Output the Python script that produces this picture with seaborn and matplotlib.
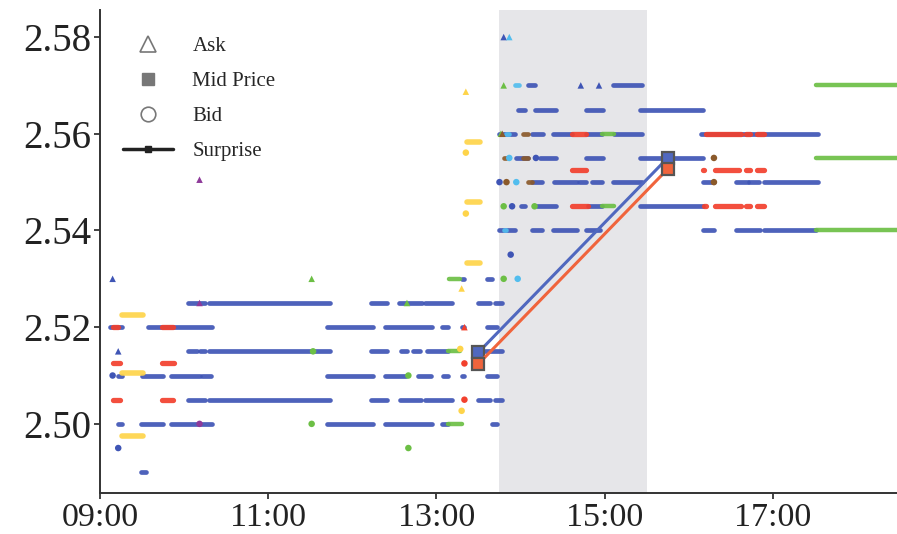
import matplotlib
matplotlib.use("Agg")
import matplotlib.pyplot as plt
from matplotlib.lines import Line2D
import seaborn as sns
import pandas as pd

# ---- quote data: (price, start "HH:MM", end "HH:MM") per venue colour ----
blue_spans = [
    (2.530, "13:18", "13:20"), (2.530, "13:36", "13:40"),
    (2.525, "10:03", "10:15"), (2.525, "10:18", "11:44"), (2.525, "12:13", "12:25"),
    (2.525, "12:33", "12:50"), (2.525, "12:52", "13:11"), (2.525, "13:30", "13:38"),
    (2.525, "13:42", "13:47"),
    (2.520, "09:07", "09:16"), (2.520, "09:34", "10:20"), (2.520, "11:42", "12:15"),
    (2.520, "12:23", "12:57"), (2.520, "13:04", "13:08"), (2.520, "13:18", "13:20"),
    (2.520, "13:36", "13:43"),
    (2.515, "10:03", "10:09"), (2.515, "10:11", "10:15"), (2.515, "10:18", "11:44"),
    (2.515, "12:13", "12:25"), (2.515, "12:35", "12:39"), (2.515, "12:43", "12:48"),
    (2.515, "12:53", "13:08"), (2.515, "13:35", "13:47"),
    (2.510, "09:13", "09:16"), (2.510, "09:30", "09:45"), (2.510, "09:51", "10:11"),
    (2.510, "10:13", "10:19"), (2.510, "11:42", "12:15"), (2.510, "12:23", "12:38"),
    (2.510, "12:47", "12:56"), (2.510, "13:05", "13:08"), (2.510, "13:18", "13:20"),
    (2.510, "13:36", "13:43"),
    (2.505, "10:03", "10:15"), (2.505, "10:18", "11:44"), (2.505, "12:13", "12:25"),
    (2.505, "12:34", "12:49"), (2.505, "12:52", "13:11"), (2.505, "13:30", "13:38"),
    (2.505, "13:42", "13:47"),
    (2.500, "09:13", "09:16"), (2.500, "09:29", "09:45"), (2.500, "09:51", "10:20"),
    (2.500, "11:42", "12:15"), (2.500, "12:23", "12:57"), (2.500, "13:04", "13:08"),
    (2.500, "13:40", "13:43"),
    (2.490, "09:29", "09:33"),
    (2.570, "14:05", "14:10"), (2.570, "15:06", "15:27"),
    (2.565, "13:58", "14:03"), (2.565, "14:10", "14:25"), (2.565, "14:47", "14:59"),
    (2.565, "15:25", "16:10"),
    (2.560, "13:45", "13:56"), (2.560, "14:08", "14:16"), (2.560, "14:23", "14:37"),
    (2.560, "14:47", "14:58"), (2.560, "15:07", "15:27"), (2.560, "16:09", "17:32"),
    (2.555, "13:57", "14:05"), (2.555, "14:14", "14:25"), (2.555, "14:47", "14:59"),
    (2.555, "15:25", "16:10"),
    (2.550, "14:08", "14:15"), (2.550, "14:24", "14:40"), (2.550, "14:42", "14:47"),
    (2.550, "14:51", "14:58"), (2.550, "15:06", "15:27"), (2.550, "16:10", "16:18"),
    (2.550, "16:34", "16:42"), (2.550, "16:43", "16:50"), (2.550, "16:54", "17:32"),
    (2.545, "14:00", "14:03"), (2.545, "14:12", "14:25"), (2.545, "14:48", "14:58"),
    (2.545, "15:25", "16:10"),
    (2.540, "13:45", "13:56"), (2.540, "14:08", "14:15"), (2.540, "14:23", "14:40"),
    (2.540, "14:47", "14:57"), (2.540, "16:10", "16:18"), (2.540, "16:34", "16:51"),
    (2.540, "16:54", "17:31"),
]
red_spans = [
    (2.520, "09:09", "09:13"), (2.520, "09:44", "09:52"),
    (2.5125, "09:09", "09:14"), (2.5125, "09:44", "09:53"),
    (2.505, "09:09", "09:14"), (2.505, "09:44", "09:52"),
    (2.560, "14:37", "14:47"), (2.560, "16:12", "16:37"), (2.560, "16:41", "16:44"),
    (2.560, "16:49", "16:54"),
    (2.5525, "14:37", "14:47"), (2.5525, "16:10", "16:11"), (2.5525, "16:19", "16:36"),
    (2.5525, "16:41", "16:44"), (2.5525, "16:49", "16:54"),
    (2.545, "14:37", "14:48"), (2.545, "16:11", "16:12"), (2.545, "16:19", "16:37"),
    (2.545, "16:41", "16:44"), (2.545, "16:49", "16:54"),
]
green_spans = [
    (2.530, "13:09", "13:17"), (2.515, "13:08", "13:17"), (2.500, "13:08", "13:18"),
    (2.560, "14:58", "15:07"), (2.545, "14:58", "15:07"),
    (2.570, "17:31", "18:40"), (2.555, "17:31", "18:40"), (2.540, "17:31", "18:40"),
]
yellow_spans = [
    (2.5225, "09:16", "09:31"), (2.5105, "09:16", "09:31"), (2.4975, "09:16", "09:31"),
    (2.5584, "13:22", "13:31"), (2.5458, "13:22", "13:31"), (2.5333, "13:22", "13:31"),
]
cyan_spans = [(2.570, "13:56", "13:59"), (2.560, "13:50", "13:52"), (2.540, "13:48", "13:50")]
brown_spans = [(2.560, "14:02", "14:05"), (2.555, "14:02", "14:05"), (2.550, "14:05", "14:08"),
               (2.555, "13:48", "13:50")]

# single quotes: (price, time, venue, side)
single_quotes = [
    (2.530, "09:09", "blue", "ask"), (2.515, "09:13", "blue", "ask"),
    (2.510, "09:09", "blue", "bid"), (2.495, "09:13", "blue", "bid"),
    (2.580, "13:48", "blue", "ask"), (2.570, "14:43", "blue", "ask"),
    (2.570, "14:56", "blue", "ask"), (2.555, "14:11", "blue", "bid"),
    (2.550, "13:45", "blue", "bid"), (2.545, "13:54", "blue", "bid"),
    (2.535, "13:53", "blue", "bid"),
    (2.520, "13:20", "red", "ask"), (2.5125, "13:20", "red", "bid"), (2.505, "13:20", "red", "bid"),
    (2.530, "11:31", "green", "ask"), (2.525, "12:39", "green", "ask"),
    (2.515, "11:32", "green", "bid"), (2.510, "12:40", "green", "bid"),
    (2.500, "11:31", "green", "bid"), (2.495, "12:40", "green", "bid"),
    (2.570, "13:48", "green", "ask"), (2.560, "13:46", "green", "ask"),
    (2.545, "13:48", "green", "bid"), (2.545, "14:10", "green", "bid"),
    (2.530, "13:48", "green", "bid"),
    (2.5687, "13:21", "yellow", "ask"), (2.5561, "13:21", "yellow", "bid"),
    (2.5435, "13:21", "yellow", "bid"), (2.528, "13:18", "yellow", "ask"),
    (2.5155, "13:17", "yellow", "bid"), (2.5027, "13:18", "yellow", "bid"),
    (2.580, "13:52", "cyan", "ask"), (2.530, "13:58", "cyan", "bid"),
    (2.555, "13:52", "cyan", "bid"), (2.550, "13:57", "cyan", "bid"),
    (2.560, "13:47", "brown", "ask"), (2.550, "13:50", "brown", "bid"),
    (2.555, "16:18", "brown", "bid"), (2.550, "16:18", "brown", "bid"),
    (2.5505, "10:11", "purple", "ask"), (2.525, "10:11", "purple", "ask"),
    (2.500, "10:11", "purple", "bid"),
]

# announcement window and surprise path of the mid price
window = ("13:45", "15:30")
surprise_times = ["13:30", "15:45"]
surprise_ask_side = [2.5148, 2.5550]
surprise_bid_side = [2.5124, 2.5527]

x_ticks = ["09:00", "11:00", "13:00", "15:00", "17:00"]
y_ticks = [2.50, 2.52, 2.54, 2.56, 2.58]

palette = {
    "blue": "#3f55b5", "red": "#f2402d", "green": "#6cbf45", "yellow": "#fed44a",
    "cyan": "#52bdee", "brown": "#8b5a2b", "purple": "#8e3a9a",
}


def hours(s):
    h, m = s.split(":")
    return int(h) + int(m) / 60.0


sns.set_theme(style="ticks")
plt.rcParams["font.family"] = ["Liberation Serif", "DejaVu Serif"]

fig = plt.figure(figsize=(8.97, 5.34), dpi=100)
ax = fig.add_axes([100 / 897, 41 / 534, 797 / 897, 483 / 534])

ax.axvspan(hours(window[0]), hours(window[1]), color="#e6e6e9", zorder=0, lw=0)

span_sets = [
    ("blue", blue_spans, 3.4), ("red", red_spans, 3.8), ("green", green_spans, 3.2),
    ("yellow", yellow_spans, 4.0), ("cyan", cyan_spans, 3.4), ("brown", brown_spans, 3.4),
]
for venue, spans, lw in span_sets:
    for price, t0, t1 in spans:
        ax.hlines(price, hours(t0), hours(t1), colors=palette[venue], lw=lw,
                  capstyle="round", alpha=0.92, zorder=2)

singles = pd.DataFrame(single_quotes, columns=["price", "time", "venue", "side"])
singles["t"] = singles["time"].map(hours)
sns.scatterplot(data=singles, x="t", y="price", hue="venue", style="side",
                palette=palette, markers={"ask": "^", "bid": "o"}, s=22,
                linewidth=0, legend=False, ax=ax, zorder=3)

surprise = pd.DataFrame({
    "t": [hours(t) for t in surprise_times] * 2,
    "price": surprise_ask_side + surprise_bid_side,
    "leg": ["ask"] * 2 + ["bid"] * 2,
})
sns.lineplot(data=surprise, x="t", y="price", hue="leg",
             palette={"ask": "#5068bf", "bid": "#f0643c"}, lw=2.2,
             marker="s", markersize=8.5, markeredgecolor="#555555",
             markeredgewidth=1.6, legend=False, ax=ax, zorder=4)

ax.set_xlim(9.0, 9.0 + 797 / 84.1)
ax.set_ylim(2.4857, 2.5856)
ax.set_xticks([hours(t) for t in x_ticks])
ax.set_xticklabels(x_ticks)
ax.set_yticks(y_ticks)
ax.set_yticklabels([f"{v:.2f}" for v in y_ticks])
ax.set_xlabel("")
ax.set_ylabel("")
ax.tick_params(axis="both", colors="#222222", length=4, width=1.2,
               direction="out")
ax.tick_params(axis="y", labelsize=28, pad=2)
ax.tick_params(axis="x", labelsize=24.5, pad=3)
sns.despine(ax=ax)
for side in ("left", "bottom"):
    ax.spines[side].set_color("#333333")
    ax.spines[side].set_linewidth(1.4)

handles = [
    Line2D([], [], ls="none", marker="^", markersize=11, markerfacecolor="none",
           markeredgecolor="#777777", markeredgewidth=1.2),
    Line2D([], [], ls="none", marker="s", markersize=9, markerfacecolor="#777777",
           markeredgecolor="#777777"),
    Line2D([], [], ls="none", marker="o", markersize=10.5, markerfacecolor="none",
           markeredgecolor="#777777", markeredgewidth=1.2),
    Line2D([], [], color="#222222", lw=2.5, marker="s", markersize=4),
]
labels = ["Ask", "Mid Price", "Bid", "Surprise"]
ax.legend(handles, labels, loc="upper left", bbox_to_anchor=(0.018, 0.962),
          frameon=False, fontsize=15, handlelength=2.4, handletextpad=0.95,
          labelspacing=0.74, borderaxespad=0)

fig.savefig("out.png", dpi=100)
